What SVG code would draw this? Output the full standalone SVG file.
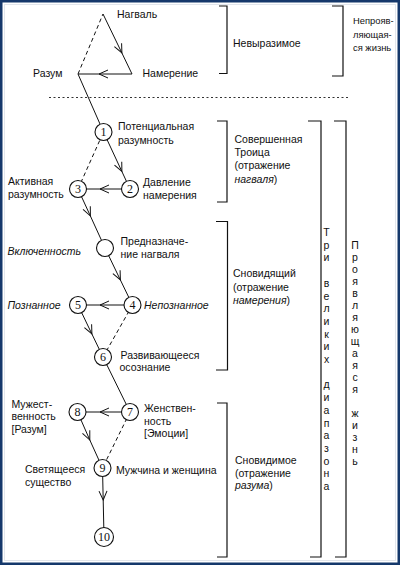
<svg xmlns="http://www.w3.org/2000/svg" width="400" height="565" viewBox="0 0 400 565">
<style>
text{font-family:"Liberation Sans",Arial,sans-serif;font-size:10.5px;fill:#111}
.it{font-style:italic}
.sm{font-size:9.4px}
.num{font-family:"Liberation Serif","Times New Roman",serif;font-size:12px;text-anchor:middle}
.vt{text-anchor:middle;font-size:10.5px}
.ln{fill:none;stroke:#111;stroke-width:1}
.ar{fill:none;stroke:#111;stroke-width:1;marker-mid:url(#chev)}
.ds{fill:none;stroke:#111;stroke-width:1;stroke-dasharray:4,3}
.br{fill:none;stroke:#111;stroke-width:1.2}
circle{fill:#fff;stroke:#111;stroke-width:1.1}
</style>
<defs>
<marker id="chev" markerUnits="userSpaceOnUse" markerWidth="14" markerHeight="12" viewBox="-11 -6 14 12" refX="0" refY="0" orient="auto" overflow="visible">
<path d="M-9,-4 L0,0 L-9,4" fill="none" stroke="#111" stroke-width="1"/>
</marker>
</defs>
<rect x="0" y="0" width="400" height="565" fill="#fff"/>
<rect x="1.25" y="1.25" width="397.5" height="562.5" fill="none" stroke="#15386b" stroke-width="2.5"/>
<rect x="4.5" y="4.5" width="391" height="556" fill="none" stroke="#e2e6ec" stroke-width="1"/>

<g id="connectors">
<path class="ar" d="M103,14 L121.9,53 L132,74"/>
<path class="ar" d="M132,74 L99,74 L78,74"/>
<path class="ds" d="M78,74 L103,14"/>
<path class="ln" d="M78,74 L103.5,132"/>
<path class="ar" d="M103.5,132 L121.9,171.5 L130,189"/>
<path class="ar" d="M130,189 L100,189 L78,189"/>
<path class="ds" d="M78,189 L103.5,132"/>
<path class="ar" d="M78,189 L90.4,216 L105,248"/>
<path class="ar" d="M105,248 L120.4,280 L132.5,305"/>
<path class="ar" d="M132.5,305 L100,305 L78,305"/>
<path class="ar" d="M78,305 L91.9,334 L103,357"/>
<path class="ds" d="M132.5,305 L103,357"/>
<path class="ln" d="M103,357 L130,412"/>
<path class="ar" d="M130,412 L100,412 L77.5,412"/>
<path class="ar" d="M77.5,412 L89.8,440 L102.5,468"/>
<path class="ds" d="M130,412 L102.5,468"/>
<path class="ar" d="M102.5,468 L103.2,500 L104,537"/>
</g>

<line x1="49" y1="97.5" x2="348" y2="97.5" stroke="#333" stroke-width="1" stroke-dasharray="2,2.5"/>

<g id="nagual"><text x="117" y="17.5">Нагваль</text></g>
<g id="razum"><text x="33" y="77">Разум</text></g>
<g id="namerenie"><text x="142.5" y="77">Намерение</text></g>

<g id="node1"><circle cx="103.5" cy="132" r="8.5"/><text class="num" x="103.5" y="136.3">1</text>
<text x="118" y="130">Потенциальная</text><text x="118" y="143.5">разумность</text></g>
<g id="node2"><circle cx="130" cy="189" r="8.5"/><text class="num" x="130" y="193.3">2</text>
<text x="143" y="185.5">Давление</text><text x="143" y="198.5">намерения</text></g>
<g id="node3"><circle cx="78" cy="189" r="8.5"/><text class="num" x="78" y="193.3">3</text>
<text x="8" y="185">Активная</text><text x="8" y="198">разумность</text></g>
<g id="nodeE"><circle cx="105" cy="248" r="8.5"/>
<text x="120.5" y="244.5">Предназначе-</text><text x="120.5" y="257.5">ние нагваля</text>
<text class="it" x="7.5" y="254.5">Включенность</text></g>
<g id="node4"><circle cx="132.5" cy="305" r="8.5"/><text class="num" x="132.5" y="309.3">4</text>
<text class="it" x="144" y="309">Непознанное</text></g>
<g id="node5"><circle cx="78" cy="305" r="8.5"/><text class="num" x="78" y="309.3">5</text>
<text class="it" x="7.5" y="309">Познанное</text></g>
<g id="node6"><circle cx="103" cy="357" r="8.5"/><text class="num" x="103" y="361.3">6</text>
<text x="120.5" y="358.5">Развивающееся</text><text x="119.5" y="371">осознание</text></g>
<g id="node7"><circle cx="130" cy="412" r="8.5"/><text class="num" x="130" y="416.3">7</text>
<text x="144" y="412">Женствен-</text><text x="144" y="424.5">ность</text><text x="144" y="437">[Эмоции]</text></g>
<g id="node8"><circle cx="77.5" cy="412" r="8.5"/><text class="num" x="77.5" y="416.3">8</text>
<text x="11.5" y="407.5">Мужест-</text><text x="11.5" y="420">венность</text><text x="11.5" y="432.5">[Разум]</text></g>
<g id="node9"><circle cx="102.5" cy="468" r="8.5"/><text class="num" x="102.5" y="472.3">9</text>
<text x="116" y="474">Мужчина и женщина</text>
<text x="25" y="473">Светящееся</text><text x="25" y="485.5">существо</text></g>
<g id="node10"><circle cx="104" cy="537" r="9.5"/><text class="num" x="104" y="541.3">10</text></g>

<g id="bracket-nevyrazimoe">
<path class="br" d="M219,6 H227 V73.5 H219"/>
<text x="233" y="47">Невыразимое</text></g>
<g id="bracket-neproyav">
<path class="br" d="M332,6 H343 V76 H332"/>
<text class="sm" x="353" y="24">Непрояв-</text><text class="sm" x="353" y="37.5">ляющая-</text><text class="sm" x="353" y="50.5">ся жизнь</text></g>
<g id="bracket-troica">
<path class="br" d="M217,121 H227 V202 H217"/>
<text x="234.5" y="143">Совершенная</text><text x="234.5" y="156">Троица</text><text x="234.5" y="169">(отражение</text><text x="234.5" y="182.5"><tspan class="it">нагваля</tspan>)</text></g>
<g id="bracket-snovidyashiy">
<path class="br" d="M216,221.5 H227.5 V370 H216"/>
<text x="233" y="277">Сновидящий</text><text x="233" y="290.5">(отражение</text><text x="233" y="304"><tspan class="it">намерения</tspan>)</text></g>
<g id="bracket-snovidimoe">
<path class="br" d="M217,403 H227 V557 H217"/>
<text x="235" y="464">Сновидимое</text><text x="235" y="476.5">(отражение</text><text x="235" y="489"><tspan class="it">разума</tspan>)</text></g>
<g id="bracket-diapazony">
<path class="br" d="M308,121 H321 V557 H310"/>
<text class="vt" x="326.5" y="236">Т</text><text class="vt" x="326.5" y="248.7">р</text><text class="vt" x="326.5" y="261.4">и</text>
<text class="vt" x="326.5" y="286.8">в</text><text class="vt" x="326.5" y="299.5">е</text><text class="vt" x="326.5" y="312.2">л</text><text class="vt" x="326.5" y="324.9">и</text><text class="vt" x="326.5" y="337.6">к</text><text class="vt" x="326.5" y="350.3">и</text><text class="vt" x="326.5" y="363">х</text>
<text class="vt" x="326.5" y="388.4">д</text><text class="vt" x="326.5" y="401.1">и</text><text class="vt" x="326.5" y="413.8">а</text><text class="vt" x="326.5" y="426.5">п</text><text class="vt" x="326.5" y="439.2">а</text><text class="vt" x="326.5" y="451.9">з</text><text class="vt" x="326.5" y="464.6">о</text><text class="vt" x="326.5" y="477.3">н</text><text class="vt" x="326.5" y="490">а</text></g>
<g id="bracket-proyavl">
<path class="br" d="M334,121 H346 V557 H335"/>
<text class="vt" x="355" y="249">П</text><text class="vt" x="355" y="261">р</text><text class="vt" x="355" y="273">о</text><text class="vt" x="355" y="285">я</text><text class="vt" x="355" y="297">в</text><text class="vt" x="355" y="309">л</text><text class="vt" x="355" y="321">я</text><text class="vt" x="355" y="333">ю</text><text class="vt" x="355" y="345">щ</text><text class="vt" x="355" y="357">а</text><text class="vt" x="355" y="369">я</text><text class="vt" x="355" y="381">с</text><text class="vt" x="355" y="393">я</text>
<text class="vt" x="355" y="417">ж</text><text class="vt" x="355" y="429">и</text><text class="vt" x="355" y="441">з</text><text class="vt" x="355" y="453">н</text><text class="vt" x="355" y="465">ь</text></g>
</svg>
